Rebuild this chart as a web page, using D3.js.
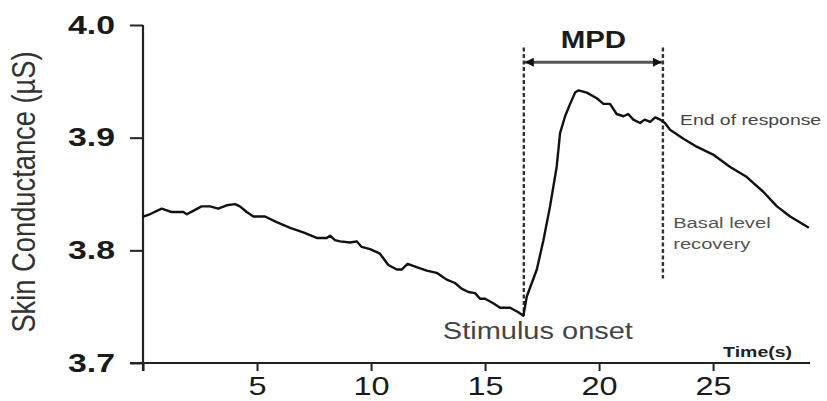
<!DOCTYPE html>
<html>
<head>
<meta charset="utf-8">
<script src="https://cdn.jsdelivr.net/npm/d3@7"></script>
<style>
  html, body { margin: 0; padding: 0; background: #fff; }
  svg { display: block; }
  text { font-family: "Liberation Sans", Arial, Helvetica, sans-serif; }
</style>
</head>
<body>
<div id="chart"></div>
<script>
// ---- data ----
const time = [0, 0.3, 0.82, 1.26, 1.77, 1.92, 2.2, 2.57, 2.94, 3.3,
  3.67, 4.04, 4.25, 4.55, 4.84, 5.35, 5.86, 6.45, 7.03, 7.62,
  8.06, 8.2, 8.42, 8.64, 9.08, 9.37, 9.59, 9.96, 10.39, 10.76,
  11.13, 11.35, 11.6, 12.0, 12.44, 12.88, 13.1, 13.32, 13.68, 13.97,
  14.27, 14.56, 14.78, 15.0, 15.36, 15.66, 16.1, 16.46, 16.68, 16.83,
  17.27, 17.56, 17.85, 18.14, 18.29, 18.51, 18.73, 18.95, 19.1, 19.46,
  19.9, 20.19, 20.48, 20.77, 21.07, 21.28, 21.5, 21.8, 22.0, 22.24,
  22.46, 22.68, 22.89, 23.11, 23.7, 24.28, 25.0, 25.75, 26.48, 27.2,
  27.8, 28.38, 29.2];
const conductance = [3.830, 3.832, 3.837, 3.834, 3.834, 3.832, 3.835, 3.839, 3.839, 3.837,
  3.840, 3.841, 3.839, 3.834, 3.830, 3.830, 3.825, 3.820, 3.816, 3.811,
  3.811, 3.813, 3.809, 3.808, 3.807, 3.808, 3.803, 3.801, 3.797, 3.787,
  3.783, 3.783, 3.788, 3.785, 3.782, 3.780, 3.777, 3.774, 3.771, 3.766,
  3.763, 3.762, 3.757, 3.757, 3.753, 3.749, 3.749, 3.745, 3.742, 3.759,
  3.783, 3.809, 3.839, 3.874, 3.904, 3.919, 3.930, 3.940, 3.942, 3.940,
  3.935, 3.930, 3.930, 3.921, 3.919, 3.921, 3.916, 3.913, 3.916, 3.914,
  3.918, 3.916, 3.913, 3.907, 3.899, 3.892, 3.885, 3.874, 3.865, 3.852,
  3.839, 3.830, 3.820];
const yTicks = [3.7, 3.8, 3.9, 4.0];
const xTicks = [0, 5, 10, 15, 20, 25];
const eventTimes = [16.7, 22.8];        // stimulus onset, end of response
const eventBottoms = [3.742, 3.775];     // lower end of each dashed marker
const yTitle = "Skin Conductance (\u00b5S)";
const xTitle = "Time(s)";
const mpdLabel = "MPD";
const onsetLabel = "Stimulus onset";
const endLabel = "End of response";
const basalLabel = ["Basal level", "recovery"];

// ---- layout ----
const W = 827, H = 401;
const x = d3.scaleLinear().domain([0, 29.25]).range([143, 810]);
const y = d3.scaleLinear().domain([3.7, 4.0]).range([363, 25]);

const svg = d3.select("#chart").append("svg").attr("width", W).attr("height", H);

function stretch(sel, k) {
  sel.each(function () {
    const w = this.getComputedTextLength();
    d3.select(this).attr("textLength", w * k).attr("lengthAdjust", "spacingAndGlyphs");
  });
}

// markers for MPD arrow
const defs = svg.append("defs");
defs.append("marker").attr("id", "ah")
  .attr("viewBox", "0 0 10 10").attr("refX", 10).attr("refY", 5)
  .attr("markerWidth", 11).attr("markerHeight", 9)
  .attr("markerUnits", "userSpaceOnUse")
  .attr("orient", "auto-start-reverse")
  .append("path").attr("d", "M0,0 L10,5 L0,10 Z").attr("fill", "#111");

// ---- axes ----
const yAxis = svg.append("g").attr("transform", `translate(${x(0)},0)`)
  .call(d3.axisLeft(y).tickValues(yTicks).tickSize(13).tickPadding(15).tickFormat(d3.format(".1f")));
yAxis.select(".domain").remove();
yAxis.selectAll(".tick line").attr("stroke", "#222").attr("stroke-width", 2);
yAxis.selectAll(".tick text").attr("font-size", 26).attr("font-weight", "bold")
  .attr("fill", "#1a1a1a").call(stretch, 1.3);

const xAxis = svg.append("g").attr("transform", `translate(0,${y(3.7)})`)
  .call(d3.axisBottom(x).tickValues(xTicks).tickSize(8).tickPadding(6).tickFormat(d => d === 0 ? "" : d));
xAxis.select(".domain").remove();
xAxis.selectAll(".tick line").attr("stroke", "#222").attr("stroke-width", 2);
xAxis.selectAll(".tick text").attr("font-size", 25).attr("fill", "#1a1a1a").call(stretch, 1.3);

// axis lines
svg.append("line").attr("x1", x(0)).attr("x2", x(0)).attr("y1", y(4.0)).attr("y2", y(3.7) + 8)
  .attr("stroke", "#222").attr("stroke-width", 2.2);
svg.append("line").attr("x1", x(0) - 13).attr("x2", x(29.25)).attr("y1", y(3.7)).attr("y2", y(3.7))
  .attr("stroke", "#222").attr("stroke-width", 2.2);

// y title
svg.append("text")
  .attr("transform", `translate(35,${(y(4.0) + y(3.7)) / 2 - 2}) rotate(-90) scale(1,1.25)`)
  .attr("text-anchor", "middle").attr("font-size", 26).attr("fill", "#333")
  .text(yTitle).call(stretch, 1.05);

// x title
svg.append("text").attr("x", x(25.44)).attr("y", y(3.7055))
  .attr("font-size", 15).attr("font-weight", "bold").attr("fill", "#222")
  .text(xTitle).call(stretch, 1.3);

// ---- event markers ----
svg.selectAll(".evt").data(eventTimes).join("line").attr("class", "evt")
  .attr("x1", d => x(d)).attr("x2", d => x(d))
  .attr("y1", y(3.98)).attr("y2", (d, i) => y(eventBottoms[i]))
  .attr("stroke", "#333").attr("stroke-width", 2.4).attr("stroke-dasharray", "4,2.5");

// MPD arrow
svg.append("line")
  .attr("x1", x(eventTimes[0]) + 1).attr("x2", x(eventTimes[1]) - 1)
  .attr("y1", y(3.967)).attr("y2", y(3.967))
  .attr("stroke", "#555").attr("stroke-width", 3)
  .attr("marker-start", "url(#ah)").attr("marker-end", "url(#ah)");
svg.append("text").attr("x", (x(eventTimes[0]) + x(eventTimes[1])) / 2).attr("y", y(3.98))
  .attr("text-anchor", "middle").attr("font-size", 23).attr("font-weight", "bold").attr("fill", "#1a1a1a")
  .text(mpdLabel).call(stretch, 1.28);

// ---- SC trace ----
const pts = time.map((t, i) => [t, conductance[i]]);
svg.append("path").datum(pts)
  .attr("d", d3.line().x(d => x(d[0])).y(d => y(d[1])))
  .attr("fill", "none").attr("stroke", "#111").attr("stroke-width", 2.4)
  .attr("stroke-linejoin", "round");

// ---- annotations ----
svg.append("text").attr("x", x(13.15)).attr("y", y(3.7215))
  .attr("font-size", 23).attr("fill", "#444").text(onsetLabel).call(stretch, 1.26);
svg.append("text").attr("x", x(23.55)).attr("y", y(3.911))
  .attr("font-size", 15.5).attr("fill", "#444").text(endLabel).call(stretch, 1.25);
svg.append("text").attr("x", x(23.25)).attr("y", y(3.8195))
  .attr("font-size", 15.5).attr("fill", "#555").text(basalLabel[0]).call(stretch, 1.3);
svg.append("text").attr("x", x(23.25)).attr("y", y(3.8015))
  .attr("font-size", 15.5).attr("fill", "#555").text(basalLabel[1]).call(stretch, 1.3);
</script>
</body>
</html>
